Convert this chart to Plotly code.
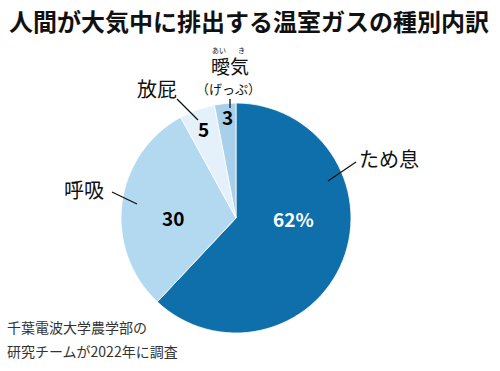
import plotly.graph_objects as go

labels = ["ため息", "呼吸", "放屁", "曖気"]
values = [62, 30, 5, 3]
slice_text = ["62%", "30", "5", "3"]
colors = ["#0e6fab", "#b3d9f0", "#e5f1fa", "#a8d0ea"]
text_colors = ["white", "black", "black", "black"]

W, H = 500, 371
cx, cy, r = 236, 218, 115

def px(x):
    return x / W

def py(y):
    return 1 - y / H

fig = go.Figure()
fig.add_trace(go.Pie(
    labels=labels, values=values, sort=False, direction="clockwise", rotation=0,
    marker=dict(colors=colors, line=dict(color="white", width=0.8)),
    textinfo="none", hoverinfo="label+value", showlegend=False,
    domain=dict(x=[px(cx - r), px(cx + r)], y=[py(cy + r), py(cy - r)]),
))

JP = "Noto Sans CJK JP"

def note(x, y, text, size, color="#111", xanchor="center"):
    fig.add_annotation(x=px(x), y=py(y), xref="paper", yref="paper", text=text,
                       xanchor=xanchor, yanchor="middle", showarrow=False,
                       font=dict(family=JP, size=size, color=color))

# in-slice values
num_pos = [(293, 218), (173, 217), (203, 128), (227, 116)]
for t, c, (x, y) in zip(slice_text, text_colors, num_pos):
    note(x, y, f"<b>{t}</b>", 19, c)

# outside labels
lab_pos = [(389, 158), (84, 189), (157, 88), (230, 65)]
lab_size = [20, 20, 20, 19]
for t, s, (x, y) in zip(labels, lab_size, lab_pos):
    note(x, y, t, s)
note(228, 88, "（げっぷ）", 13)
note(219, 50, "あい", 7)
note(241, 50, "き", 7)

# leader lines
lines = [((328, 181), (356, 162)), ((112, 192), (137, 204)), ((177, 99), (198, 120)), ((230, 99), (230, 108))]
for (x0, y0), (x1, y1) in lines:
    fig.add_shape(type="line", xref="paper", yref="paper", x0=px(x0), y0=py(y0), x1=px(x1), y1=py(y1),
                  line=dict(color="#111", width=1.3))

# title
note(249, 21, "<b>人間が大気中に排出する温室ガスの種別内訳</b>", 24)

# footnote
note(5, 327, "千葉電波大学農学部の", 14, "#333", "left")
note(5, 351, "研究チームが2022年に調査", 14, "#333", "left")

fig.update_layout(width=W, height=H, margin=dict(l=0, r=0, t=0, b=0),
                  paper_bgcolor="white", plot_bgcolor="white")
fig.write_html("out.html", config={"displayModeBar": False},
               post_script="document.body.style.margin='0';")
